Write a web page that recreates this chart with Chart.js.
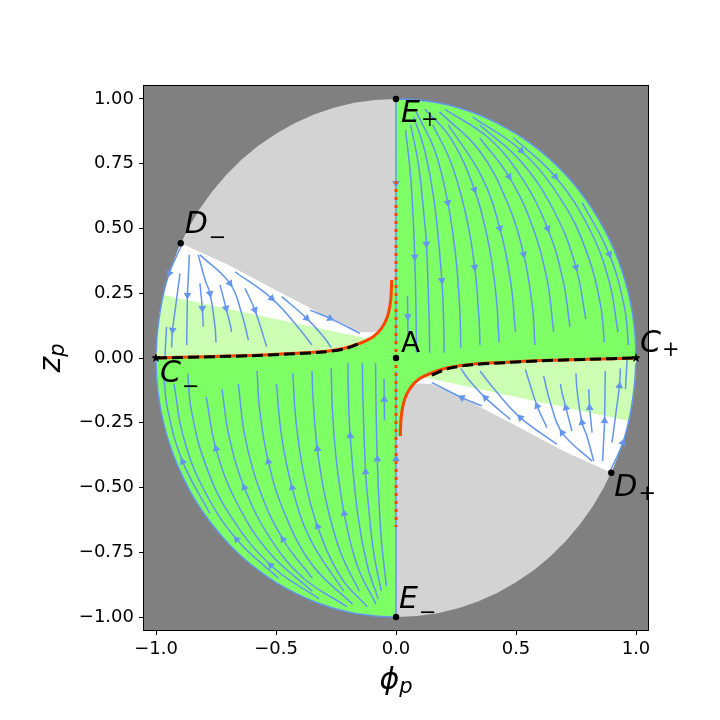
<!DOCTYPE html>
<html lang="en">
<head>
<meta charset="UTF-8">
<title>Phase portrait</title>
<script src="https://cdn.jsdelivr.net/npm/chart.js"></script>
<style>
    body { margin: 0; background: #fff; }
    #wrap { width: 720px; height: 720px; }
</style>
</head>
<body>
<div id="wrap"><canvas id="phase" width="720" height="720"></canvas></div>
<script>
// ticks
const xTicks = [-1, -0.5, 0, 0.5, 1];
const yTicks = [-1, -0.75, -0.5, -0.25, 0, 0.25, 0.5, 0.75, 1];

// edge of the allowed disk (phi_p, z_p), every 5 degrees, counter-clockwise from C+
const circle = [
    [1, 0], [0.996, 0.087], [0.985, 0.174], [0.966, 0.259], [0.940, 0.342], [0.906, 0.423],
    [0.866, 0.5], [0.819, 0.574], [0.766, 0.643], [0.707, 0.707], [0.643, 0.766], [0.574, 0.819],
    [0.5, 0.866], [0.423, 0.906], [0.342, 0.940], [0.259, 0.966], [0.174, 0.985], [0.087, 0.996],
    [0, 1], [-0.087, 0.996], [-0.174, 0.985], [-0.259, 0.966], [-0.342, 0.940], [-0.423, 0.906],
    [-0.5, 0.866], [-0.574, 0.819], [-0.643, 0.766], [-0.707, 0.707], [-0.766, 0.643], [-0.819, 0.574],
    [-0.866, 0.5], [-0.906, 0.423], [-0.940, 0.342], [-0.966, 0.259], [-0.985, 0.174], [-0.996, 0.087],
    [-1, 0], [-0.996, -0.087], [-0.985, -0.174], [-0.966, -0.259], [-0.940, -0.342], [-0.906, -0.423],
    [-0.866, -0.5], [-0.819, -0.574], [-0.766, -0.643], [-0.707, -0.707], [-0.643, -0.766], [-0.574, -0.819],
    [-0.5, -0.866], [-0.423, -0.906], [-0.342, -0.940], [-0.259, -0.966], [-0.174, -0.985], [-0.087, -0.996],
    [0, -1], [0.087, -0.996], [0.174, -0.985], [0.259, -0.966], [0.342, -0.940], [0.423, -0.906],
    [0.5, -0.866], [0.574, -0.819], [0.643, -0.766], [0.707, -0.707], [0.766, -0.643], [0.819, -0.574],
    [0.866, -0.5], [0.906, -0.423], [0.940, -0.342], [0.966, -0.259], [0.985, -0.174], [0.996, -0.087],
    [1, 0]
];

// separatrices (solid orange) and the dashed curve
const orangeUL = [[-1, 0], [-0.8, 0.005], [-0.6, 0.01], [-0.45, 0.017], [-0.317, 0.024], [-0.22, 0.037],
    [-0.15, 0.057], [-0.095, 0.082], [-0.06, 0.115], [-0.036, 0.159], [-0.022, 0.224], [-0.018, 0.301]];
const orangeLR = [[1, 0], [0.8, -0.005], [0.6, -0.01], [0.45, -0.017], [0.317, -0.024], [0.22, -0.037],
    [0.15, -0.057], [0.095, -0.082], [0.06, -0.115], [0.036, -0.159], [0.022, -0.224], [0.018, -0.301]];
const dashUL = [[-1, 0], [-0.8, 0.004], [-0.6, 0.009], [-0.45, 0.015], [-0.317, 0.022], [-0.22, 0.034], [-0.155, 0.055]];
const dashLR = [[0.149, -0.066], [0.22, -0.04], [0.317, -0.026], [0.45, -0.018], [0.6, -0.011], [0.8, -0.005], [1, 0]];
const dotted = [[0, 0.683], [0, -0.652]];

// region edges
const grayEdgeUL = [[-0.065, 0.105], [-0.1, 0.098], [-0.15, 0.1], [-0.3, 0.165], [-0.5, 0.262], [-0.7, 0.36], [-0.897, 0.443]];
const grayEdgeLR = [[0.065, -0.105], [0.1, -0.098], [0.15, -0.1], [0.3, -0.165], [0.5, -0.262], [0.7, -0.36], [0.897, -0.443]];
const lightEdgeUL = [[-0.08, 0.068], [-0.97, 0.243]];
const lightEdgeLR = [[0.08, -0.068], [0.97, -0.243]];

// fixed points
const dotPts = [[0, 1], [0, -1], [-0.897, 0.443], [0.897, -0.443], [0, 0]];
const starPts = [[1, 0], [-1, 0]];
const labelAt = [[0, 1], [0, -1], [-0.897, 0.443], [0.897, -0.443], [1, 0], [-1, 0], [0, 0]];
const labelName = ['E', 'E', 'D', 'D', 'C', 'C', 'A'];
const labelSub = ['+', '\u2212', '\u2212', '+', '+', '\u2212', ''];

// streamlines, upper right (flowing down)
const flowUR = [
    [[0.048, 0.24], [0.049, 0.16], [0.05, 0.08]],
    [[0.040, 0.88], [0.061, 0.7], [0.072, 0.53], [0.078, 0.39], [0.083, 0.2], [0.085, 0.02]],
    [[0.061, 0.9], [0.093, 0.75], [0.119, 0.53], [0.127, 0.44], [0.138, 0.15], [0.14, 0.02]],
    [[0.074, 0.93], [0.12, 0.8], [0.16, 0.6], [0.191, 0.3], [0.199, 0.12], [0.2, 0.02]],
    [[0.084, 0.95], [0.162, 0.8], [0.216, 0.6], [0.248, 0.4], [0.265, 0.2], [0.27, 0.04]],
    [[0.153, 0.9], [0.231, 0.75], [0.292, 0.55], [0.328, 0.35], [0.346, 0.15], [0.35, 0.05]],
    [[0.12, 0.96], [0.227, 0.85], [0.327, 0.65], [0.384, 0.45], [0.416, 0.25], [0.43, 0.06]],
    [[0.218, 0.9], [0.357, 0.7], [0.433, 0.5], [0.477, 0.3], [0.498, 0.1]],
    [[0.181, 0.95], [0.348, 0.8], [0.464, 0.6], [0.532, 0.4], [0.568, 0.2], [0.579, 0.05]],
    [[0.348, 0.85], [0.471, 0.7], [0.572, 0.5], [0.63, 0.3], [0.657, 0.1]],
    [[0.204, 0.96], [0.385, 0.85], [0.521, 0.7], [0.632, 0.5], [0.696, 0.3], [0.725, 0.12]],
    [[0.349, 0.9], [0.529, 0.75], [0.668, 0.55], [0.75, 0.35], [0.791, 0.15]],
    [[0.32, 0.93], [0.522, 0.8], [0.696, 0.6], [0.798, 0.4], [0.853, 0.2], [0.868, 0.06]],
    [[0.49, 0.85], [0.664, 0.7], [0.805, 0.5], [0.887, 0.3], [0.925, 0.1]],
    [[0.776, 0.6], [0.889, 0.4], [0.951, 0.2], [0.969, 0.05]],
    [[0, 0.99], [0, 0.675], [0, 0.05]]
];
const arrowUR = [1, 3, 3, 3, 2, 3, 2, 2, 3, 1, 3, 3, 1, 1, 1, 1];

// lower left (flowing up)
const flowLL = [
    [[-0.048, -0.24], [-0.049, -0.16], [-0.05, -0.08]],
    [[-0.040, -0.88], [-0.061, -0.7], [-0.072, -0.53], [-0.078, -0.39], [-0.083, -0.2], [-0.085, -0.02]],
    [[-0.061, -0.9], [-0.093, -0.75], [-0.119, -0.53], [-0.127, -0.44], [-0.138, -0.15], [-0.14, -0.02]],
    [[-0.074, -0.93], [-0.12, -0.8], [-0.16, -0.6], [-0.191, -0.3], [-0.199, -0.12], [-0.2, -0.02]],
    [[-0.084, -0.95], [-0.162, -0.8], [-0.216, -0.6], [-0.248, -0.4], [-0.265, -0.2], [-0.27, -0.04]],
    [[-0.153, -0.9], [-0.231, -0.75], [-0.292, -0.55], [-0.328, -0.35], [-0.346, -0.15], [-0.35, -0.05]],
    [[-0.12, -0.96], [-0.227, -0.85], [-0.327, -0.65], [-0.384, -0.45], [-0.416, -0.25], [-0.43, -0.06]],
    [[-0.218, -0.9], [-0.357, -0.7], [-0.433, -0.5], [-0.477, -0.3], [-0.498, -0.1]],
    [[-0.181, -0.95], [-0.348, -0.8], [-0.464, -0.6], [-0.532, -0.4], [-0.568, -0.2], [-0.579, -0.05]],
    [[-0.348, -0.85], [-0.471, -0.7], [-0.572, -0.5], [-0.63, -0.3], [-0.657, -0.1]],
    [[-0.204, -0.96], [-0.385, -0.85], [-0.521, -0.7], [-0.632, -0.5], [-0.696, -0.3], [-0.725, -0.12]],
    [[-0.349, -0.9], [-0.529, -0.75], [-0.668, -0.55], [-0.75, -0.35], [-0.791, -0.15]],
    [[-0.32, -0.93], [-0.522, -0.8], [-0.696, -0.6], [-0.798, -0.4], [-0.853, -0.2], [-0.868, -0.06]],
    [[-0.49, -0.85], [-0.664, -0.7], [-0.805, -0.5], [-0.887, -0.3], [-0.925, -0.1]],
    [[-0.776, -0.6], [-0.889, -0.4], [-0.951, -0.2], [-0.969, -0.05]],
    [[0, -0.99], [0, -0.39], [0, -0.05]]
];
const arrowLL = [1, 3, 3, 3, 2, 3, 2, 2, 3, 1, 3, 3, 1, 1, 1, 1];

// wedge below D- (flowing down to the dashed curve)
const flowUL = [
    [[-0.893, 0.436], [-0.945, 0.327], [-0.975, 0.22], [-0.994, 0.1], [-0.999, 0.02]],
    [[-0.9, 0.327], [-0.918, 0.2], [-0.931, 0.108], [-0.935, 0.04]],
    [[-0.861, 0.398], [-0.866, 0.3], [-0.869, 0.243], [-0.872, 0.05]],
    [[-0.824, 0.398], [-0.795, 0.3], [-0.775, 0.249], [-0.754, 0.12], [-0.75, 0.06]],
    [[-0.817, 0.288], [-0.807, 0.192], [-0.803, 0.121]],
    [[-0.733, 0.282], [-0.708, 0.192], [-0.692, 0.134], [-0.685, 0.1]],
    [[-0.817, 0.398], [-0.692, 0.288], [-0.643, 0.172], [-0.615, 0.069]],
    [[-0.629, 0.269], [-0.588, 0.185], [-0.539, 0.044]],
    [[-0.671, 0.333], [-0.518, 0.23], [-0.41, 0.121], [-0.35, 0.05]],
    [[-0.476, 0.237], [-0.372, 0.153], [-0.3, 0.08], [-0.27, 0.04]],
    [[-0.358, 0.185], [-0.275, 0.153], [-0.15, 0.095]],
    [[-0.956, 0.12], [-0.963, 0.005]]
];
const arrowUL = [1, 2, 2, 2, 1, 1, 1, 1, 1, 1, 1, -1];

// wedge above D+ (flowing up to the dashed curve)
const flowLR = [
    [[0.893, -0.436], [0.945, -0.327], [0.975, -0.22], [0.994, -0.1], [0.999, -0.02]],
    [[0.9, -0.327], [0.918, -0.2], [0.931, -0.108], [0.935, -0.04]],
    [[0.861, -0.398], [0.866, -0.3], [0.869, -0.243], [0.872, -0.05]],
    [[0.824, -0.398], [0.795, -0.3], [0.775, -0.249], [0.754, -0.12], [0.75, -0.06]],
    [[0.817, -0.288], [0.807, -0.192], [0.803, -0.121]],
    [[0.733, -0.282], [0.708, -0.192], [0.692, -0.134], [0.685, -0.1]],
    [[0.817, -0.398], [0.692, -0.288], [0.643, -0.172], [0.615, -0.069]],
    [[0.629, -0.269], [0.588, -0.185], [0.539, -0.044]],
    [[0.671, -0.333], [0.518, -0.23], [0.41, -0.121], [0.35, -0.05]],
    [[0.476, -0.237], [0.372, -0.153], [0.3, -0.08], [0.27, -0.04]],
    [[0.358, -0.185], [0.275, -0.153], [0.15, -0.095]],
    [[0.956, -0.12], [0.963, -0.005]]
];
const arrowLR = [1, 2, 2, 2, 1, 1, 1, 1, 1, 1, 1, -1];

const GREEN = 'rgb(127,255,102)';
const LIGHT_GREEN = 'rgb(204,255,179)';
const FLOW = '#6495ed';
const ORANGE = '#ff4500';

const pts = a => a.map(([x, y]) => ({ x, y }));

// filled regions built from the edges above
const dm = dotPts[2], dp = dotPts[3];
const regions = [
    { data: circle, color: '#d3d3d3', order: 30 },
    { data: [dm, ...circle.slice(31, 37), ...orangeUL.slice(1, 9), ...grayEdgeUL], color: '#ffffff', order: 29 },
    { data: [dp, ...circle.slice(67, 73), ...orangeLR.slice(1, 9), ...grayEdgeLR], color: '#ffffff', order: 29 },
    { data: [lightEdgeUL[1], ...circle.slice(34, 37), ...orangeUL.slice(1, 8), lightEdgeUL[0]], color: LIGHT_GREEN, order: 28 },
    { data: [lightEdgeLR[1], ...circle.slice(70, 73), ...orangeLR.slice(1, 8), lightEdgeLR[0]], color: LIGHT_GREEN, order: 28 },
    { data: [...circle.slice(0, 19).reverse(), ...orangeLR.slice(1), [0, -0.301]], color: GREEN, order: 27 },
    { data: [...circle.slice(36, 55).reverse(), ...orangeUL.slice(1), [0, 0.301]], color: GREEN, order: 27 }
];

const datasets = regions.map(r => ({
    data: pts(r.data),
    showLine: true,
    fill: 'shape',
    backgroundColor: r.color,
    borderColor: 'rgba(0,0,0,0)',
    borderWidth: 0,
    pointRadius: 0,
    order: r.order
}));

// streamlines + arrow heads
const flows = [
    [flowUR, arrowUR], [flowLL, arrowLL], [flowUL, arrowUL], [flowLR, arrowLR],
    [[circle.slice(0, 19).reverse(), circle.slice(36, 55).reverse()], [-1, -1]]
];
const arrowHeads = [];
flows.forEach(([lines, arrows]) => {
    lines.forEach((ln, k) => {
        datasets.push({
            data: pts(ln), showLine: true, borderColor: FLOW, borderWidth: 1.5,
            tension: 0.4, pointRadius: 0, fill: false, order: 20
        });
        const i = arrows[k];
        if (i >= 0) arrowHeads.push({ x: ln[i][0], y: ln[i][1], line: ln, i });
    });
});

datasets.push({
    data: arrowHeads,
    pointStyle: 'triangle',
    pointRadius: 4.5,
    backgroundColor: FLOW,
    borderWidth: 0,
    pointRotation(c) {
        const p = c.raw;
        if (!p || !p.line) return 0;
        const { x, y } = c.chart.scales;
        const a = p.line[Math.max(p.i - 1, 0)];
        const b = p.line[Math.min(p.i + 1, p.line.length - 1)];
        const dx = x.getPixelForValue(b[0]) - x.getPixelForValue(a[0]);
        const dy = y.getPixelForValue(b[1]) - y.getPixelForValue(a[1]);
        return Math.atan2(dx, -dy) * 180 / Math.PI;
    },
    order: 19
});

[orangeUL, orangeLR].forEach(c => datasets.push({
    data: pts(c), showLine: true, borderColor: ORANGE, borderWidth: 3,
    tension: 0.3, pointRadius: 0, fill: false, order: 12
}));
datasets.push({
    data: pts(dotted), showLine: true, borderColor: ORANGE, borderWidth: 3,
    borderDash: [3, 5], pointRadius: 0, fill: false, order: 11
});
[dashUL, dashLR].forEach(c => datasets.push({
    data: pts(c), showLine: true, borderColor: '#000', borderWidth: 3,
    borderDash: [11, 5], tension: 0.3, pointRadius: 0, fill: false, order: 10
}));

// filled star marker
function starImage(r) {
    const c = document.createElement('canvas');
    c.width = c.height = 2 * r + 2;
    const g = c.getContext('2d');
    g.beginPath();
    for (let k = 0; k < 10; k++) {
        const rad = k % 2 ? r * 0.42 : r;
        const t = Math.PI * k / 5 - Math.PI / 2;
        g.lineTo(r + 1 + rad * Math.cos(t), r + 1 + rad * Math.sin(t));
    }
    g.closePath();
    g.fillStyle = '#000';
    g.fill();
    return c;
}

datasets.push({ data: pts(dotPts), pointStyle: 'circle', pointRadius: 3.2, backgroundColor: '#000', borderWidth: 0, order: 2 });
datasets.push({ data: pts(starPts), pointStyle: starImage(5), order: 1 });

// label offsets in pixels from each anchor
const labelOffset = [[5, 23], [3, -9], [4, -10], [3, 23], [4, -6], [4, 24], [5, -6]];

const decor = {
    id: 'decor',
    beforeDraw(chart) {
        const { ctx, chartArea: a } = chart;
        ctx.save();
        ctx.fillStyle = '#808080';
        ctx.fillRect(a.left, a.top, a.right - a.left, a.bottom - a.top);
        ctx.restore();
    },
    afterDraw(chart) {
        const { ctx, chartArea: a, scales: { x, y } } = chart;
        ctx.save();
        ctx.strokeStyle = '#000';
        ctx.lineWidth = 1;
        ctx.strokeRect(a.left - 0.5, a.top - 0.5, a.right - a.left + 1, a.bottom - a.top + 1);

        ctx.fillStyle = '#000';
        ctx.textAlign = 'left';
        labelName.forEach((name, k) => {
            const px = x.getPixelForValue(labelAt[k][0]) + labelOffset[k][0];
            const py = y.getPixelForValue(labelAt[k][1]) + labelOffset[k][1];
            ctx.font = name === 'A' ? '28px "DejaVu Sans"' : 'italic 30px "DejaVu Sans"';
            ctx.textBaseline = 'alphabetic';
            ctx.fillText(name, px, py);
            if (labelSub[k]) {
                const w = ctx.measureText(name).width;
                ctx.font = '21px "DejaVu Sans"';
                ctx.textBaseline = 'middle';
                ctx.fillText(labelSub[k], px + w + 1, py + (labelSub[k] === '+' ? -1.5 : 5.5));
            }
        });

        // axis titles: phi_p and z_p
        const title = (main, sub, cx, base) => {
            ctx.textBaseline = 'alphabetic';
            ctx.font = 'italic 30px "DejaVu Sans"';
            const w1 = ctx.measureText(main).width;
            ctx.font = 'italic 21px "DejaVu Sans"';
            const w2 = ctx.measureText(sub).width;
            const s = cx - (w1 + w2) / 2;
            ctx.font = 'italic 30px "DejaVu Sans"';
            ctx.fillText(main, s, base);
            ctx.font = 'italic 21px "DejaVu Sans"';
            ctx.fillText(sub, s + w1, base + 4);
        };
        title('\u03d5', 'p', (a.left + a.right) / 2, 689);
        ctx.translate(60, (a.top + a.bottom) / 2);
        ctx.rotate(-Math.PI / 2);
        title('z', 'p', 0, 0);
        ctx.restore();
    }
};

const fmt = (v, d) => (v < 0 ? '\u2212' : '') + Math.abs(v).toFixed(d);
const axisCommon = {
    type: 'linear',
    min: -1.05,
    max: 1.05,
    grid: { drawOnChartArea: false, drawTicks: true, tickLength: 5, color: '#000', lineWidth: 1 },
    border: { display: false }
};

Chart.defaults.font.family = '"DejaVu Sans"';
new Chart(document.getElementById('phase'), {
    type: 'scatter',
    data: { datasets },
    options: {
        responsive: false,
        animation: false,
        events: [],
        layout: { padding: { left: 0, top: 86, right: 72, bottom: 0 } },
        plugins: { legend: { display: false }, tooltip: { enabled: false } },
        scales: {
            x: {
                ...axisCommon,
                afterBuildTicks: s => { s.ticks = xTicks.map(v => ({ value: v })); },
                afterFit: s => { s.height = 90; },
                ticks: { color: '#000', font: { size: 18 }, padding: 4, maxRotation: 0, callback: v => fmt(v, 1) }
            },
            y: {
                ...axisCommon,
                afterBuildTicks: s => { s.ticks = yTicks.map(v => ({ value: v })); },
                afterFit: s => { s.width = 144; },
                ticks: { color: '#000', font: { size: 18 }, padding: 5, callback: v => fmt(v, 2) }
            }
        }
    },
    plugins: [decor]
});
</script>
</body>
</html>
